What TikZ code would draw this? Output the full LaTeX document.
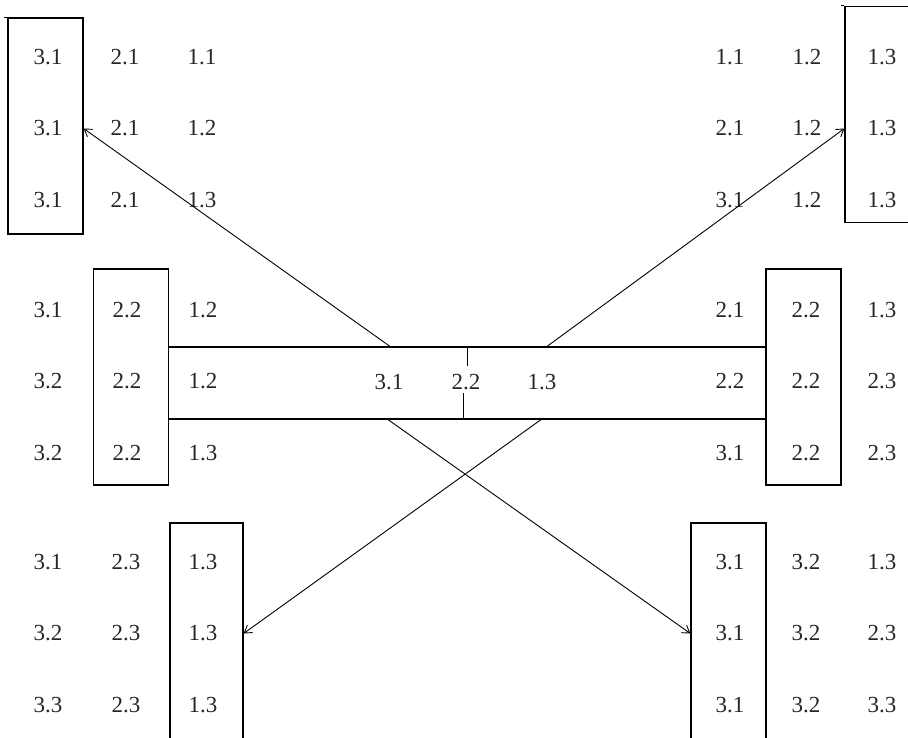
\documentclass[tikz,border=0pt]{standalone}
\usepackage{fontspec}
\setmainfont{Liberation Serif}
\usetikzlibrary{arrows.meta,positioning,calc}
\tikzset{
  num/.style={inner sep=0pt,text=black!85,font=\fontsize{23}{23}\selectfont},
  cellbox/.style={draw,line width=1.2pt,minimum width=75pt,minimum height=216pt,inner sep=0pt},
  link/.style={-{Straight Barb[length=7pt,width=9pt]},line width=.9pt}
}

\begin{document}
\begin{tikzpicture}[x=1pt,y=-1pt]
\useasboundingbox (0,0) rectangle (908,738);
\clip (0,0) rectangle (908,738);
% top groups
\foreach \a/\b/\c [count=\r] in {3.1/2.1/1.1,3.1/2.1/1.2,3.1/2.1/1.3}{
  \node[num] (tl\r a) at (48,{57+(\r-1)*71.5}) {\a};
  \node[num] (tl\r b) at (125,{57+(\r-1)*71.5}) {\b};
  \node[num] (tl\r c) at (202,{57+(\r-1)*71.5}) {\c};}
\foreach \a/\b/\c [count=\r] in {1.1/1.2/1.3,2.1/1.2/1.3,3.1/1.2/1.3}{
  \node[num] (tr\r a) at (730,{57+(\r-1)*71.5}) {\a};
  \node[num] (tr\r b) at (807,{57+(\r-1)*71.5}) {\b};
  \node[num] (tr\r c) at (882,{57+(\r-1)*71.5}) {\c};}
% middle groups
\foreach \a/\b/\c [count=\r] in {3.1/2.2/1.2,3.2/2.2/1.2,3.2/2.2/1.3}{
  \node[num] (ml\r a) at (48,{310+(\r-1)*71.5}) {\a};
  \node[num] (ml\r b) at (127,{310+(\r-1)*71.5}) {\b};
  \node[num] (ml\r c) at (203,{310+(\r-1)*71.5}) {\c};}
\foreach \a/\b/\c [count=\r] in {2.1/2.2/1.3,2.2/2.2/2.3,3.1/2.2/2.3}{
  \node[num] (mr\r a) at (730,{310+(\r-1)*71.5}) {\a};
  \node[num] (mr\r b) at (806,{310+(\r-1)*71.5}) {\b};
  \node[num] (mr\r c) at (882,{310+(\r-1)*71.5}) {\c};}
% bottom groups
\foreach \a/\b/\c [count=\r] in {3.1/2.3/1.3,3.2/2.3/1.3,3.3/2.3/1.3}{
  \node[num] (bl\r a) at (48,{562+(\r-1)*71.5}) {\a};
  \node[num] (bl\r b) at (126,{562+(\r-1)*71.5}) {\b};
  \node[num] (bl\r c) at (203,{562+(\r-1)*71.5}) {\c};}
\foreach \a/\b/\c [count=\r] in {3.1/3.2/1.3,3.1/3.2/2.3,3.1/3.2/3.3}{
  \node[num] (br\r a) at (730,{562+(\r-1)*71.5}) {\a};
  \node[num] (br\r b) at (806,{562+(\r-1)*71.5}) {\b};
  \node[num] (br\r c) at (882,{562+(\r-1)*71.5}) {\c};}
% boxes
\node[cellbox] (tlbox) at (45.5,126) {};
\node[cellbox] (trbox) at (882.5,114.5) {};
\node[cellbox] (mlbox) at (131,377) {};
\node[cellbox] (mrbox) at (803.5,377) {};
\node[cellbox,minimum width=73pt] (blbox) at (206.5,631) {};
\node[cellbox] (brbox) at (728.5,631) {};
\draw[line width=1.2pt] (tlbox.north west) -- ++(-3,0);
\draw[line width=1.2pt] (trbox.north west) -- ++(-3,0);
% centre bar
\node[draw,line width=1.2pt,minimum width=597.5pt,minimum height=72pt,inner sep=0pt] (bar) at (467.25,383) {};
\node[num] (c31) at (389,382) {3.1};
\node[num] (c22) at (466,382) {2.2};
\node[num] (c13) at (542,382) {1.3};
\draw[line width=1.2pt] (bar.north) -- ++(0,20);
\draw[line width=1.2pt] ([xshift=-4pt]bar.south) -- ++(0,-27);
% arrows
\draw[link] ([xshift=1pt]c31 |- bar.north) -- (tlbox.east |- tl2a);
\draw[link] ([xshift=5pt]c13 |- bar.north) -- (trbox.west |- tr2a);
\draw[link] ([xshift=-1pt]c31 |- bar.south) -- (brbox.west |- br2a);
\draw[link] ([xshift=-1pt]c13 |- bar.south) -- (blbox.east |- bl2a);
\end{tikzpicture}
\end{document}
